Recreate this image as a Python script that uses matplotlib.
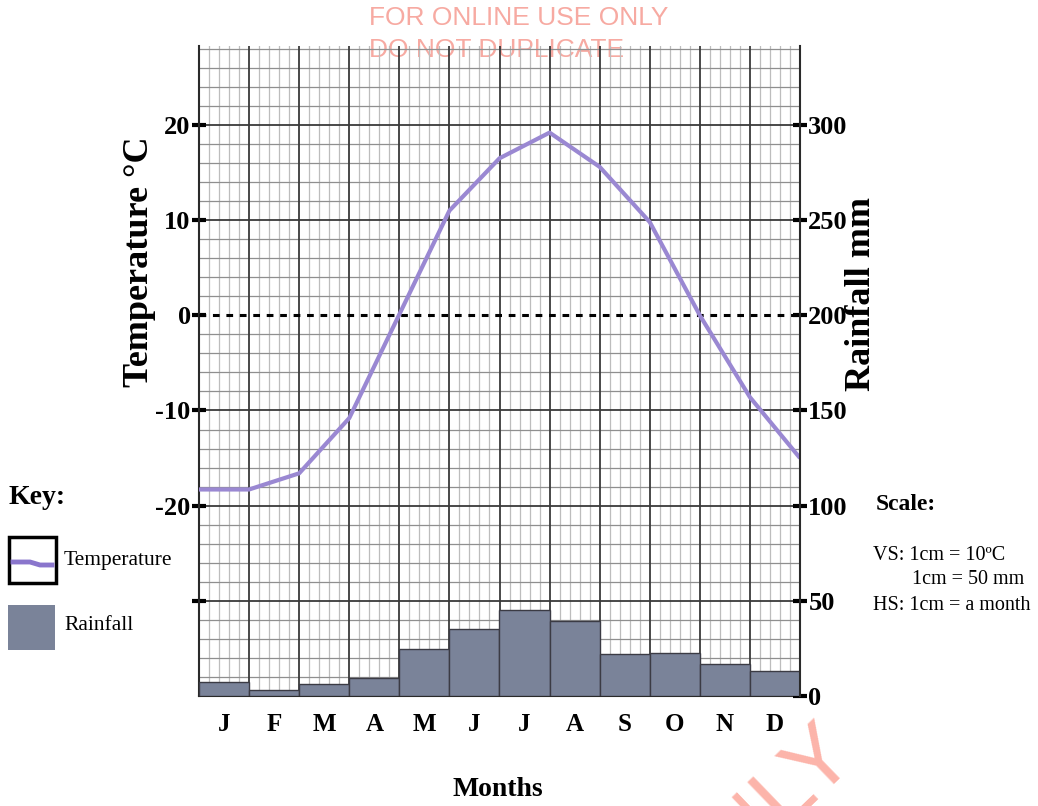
import matplotlib
matplotlib.use('Agg')
import matplotlib.pyplot as plt
import numpy as np
from matplotlib.patches import Rectangle
from matplotlib.lines import Line2D

# ---------------- data ----------------
months = ['J', 'F', 'M', 'A', 'M', 'J', 'J', 'A', 'S', 'O', 'N', 'D']
rainfall_mm = [7.5, 3, 6.5, 9.5, 24.5, 35, 45, 39.5, 22, 22.8, 17, 13.3]
# temperature read at month boundaries (start of Jan ... end of Dec)
temperature_c = [-18.3, -18.3, -16.6, -10.8, 0.1, 11.0, 16.5, 19.2, 15.6, 9.8, 0.0, -8.6, -15.0]
temp_ticks = [20, 10, 0, -10, -20, -30]
temp_tick_labels = ['20', '10', '0', '-10', '-20', '']
rain_ticks = [300, 250, 200, 150, 100, 50, 0]
rain_tick_labels = ['300', '250', '200', '150', '100', '50', '0']

SERIF = ['Liberation Serif', 'DejaVu Serif']
SANS = ['Liberation Sans', 'DejaVu Sans']
W, H = 1038, 806

fig = plt.figure(figsize=(W / 100, H / 100), dpi=100)


def fx(px):
    return px / W


def fy(py):
    return 1 - py / H


# watermark behind the grid
fig.text(fx(519), fy(18), 'FOR ONLINE USE ONLY', family=SANS, fontsize=19,
         color='#f7aaa2', ha='center', va='center', zorder=-2)
fig.text(fx(497), fy(50), 'DO NOT DUPLICATE', family=SANS, fontsize=19,
         color='#f7aaa2', ha='center', va='center', zorder=-2)

T_TOP, T_BOT = 28.3, -40
ax = fig.add_axes([fx(199), 110 / H, 601 / W, 650 / H])
ax.set_facecolor('none')
ax.set_xlim(0, 12)
ax.set_ylim(T_BOT, T_TOP)

# graph-paper grid
for x in np.round(np.arange(0, 12.001, 0.2), 3):
    if abs(x - round(x)) < 1e-6:
        ax.axvline(x, color='#3a3a3a', lw=1.3, zorder=1)
    else:
        ax.axvline(x, color='#bdbdbd', lw=0.9, zorder=0.5)
for y in np.arange(-40, T_TOP, 2):
    if y == 0:
        continue
    if y % 10 == 0:
        ax.axhline(y, color='#3a3a3a', lw=1.3, zorder=1)
    else:
        ax.axhline(y, color='#8f8f8f', lw=0.9, zorder=0.6)
ax.axhline(0, color='black', lw=2.2, ls=(0, (2.2, 2.2)), zorder=3)

# temperature line
ax.plot(np.arange(len(temperature_c)), temperature_c, color='#9a88d2', lw=3,
        zorder=5, solid_capstyle='butt')

ax.set_yticks(temp_ticks, labels=temp_tick_labels)
ax.tick_params(axis='y', direction='inout', length=10, width=3, pad=1,
               labelsize=19, color='black')
for lab in ax.get_yticklabels():
    lab.set_family(SERIF)
    lab.set_fontweight('bold')
ax.set_xticks(np.arange(12) + 0.5, labels=months)
ax.tick_params(axis='x', length=0, pad=12, labelsize=18)
for lab in ax.get_xticklabels():
    lab.set_family(SERIF)
    lab.set_fontweight('bold')

for s in ['top', 'right']:
    ax.spines[s].set_visible(False)
for s in ['left', 'bottom']:
    ax.spines[s].set_color('#2a2a2a')
    ax.spines[s].set_linewidth(1.5)

# rainfall axis
ax2 = ax.twinx()
ax2.set_ylim(0, (T_TOP - T_BOT) * 5)
ax2.bar(np.arange(12) + 0.5, rainfall_mm, width=1, color='#7a8399',
        edgecolor='#3b3b44', lw=1.0, zorder=2)
ax2.set_yticks(rain_ticks, labels=rain_tick_labels)
ax2.tick_params(axis='y', direction='inout', length=10, width=3, pad=1,
                labelsize=19, color='black')
for lab in ax2.get_yticklabels():
    lab.set_family(SERIF)
    lab.set_fontweight('bold')
for s in ['top', 'left', 'bottom']:
    ax2.spines[s].set_visible(False)
ax2.spines['right'].set_color('#2a2a2a')
ax2.spines['right'].set_linewidth(1.5)

# axis titles
fig.text(fx(140), fy(262), 'Temperature °C', rotation=90, family=SERIF,
         fontweight='bold', fontsize=26, ha='center', va='center')
fig.text(fx(862), fy(294), 'Rainfall mm', rotation=90, family=SERIF,
         fontweight='bold', fontsize=26, ha='center', va='center')
fig.text(fx(498), fy(790), 'Months', family=SERIF, fontweight='bold',
         fontsize=20, ha='center', va='center')

# key
fig.text(fx(9), fy(497), 'Key:', family=SERIF, fontweight='bold', fontsize=20,
         ha='left', va='center')
fig.add_artist(Rectangle((fx(9), fy(583)), 47 / W, 46 / H, transform=fig.transFigure,
                         fill=False, edgecolor='black', lw=2.5))
fig.add_artist(Line2D([fx(13), fx(30), fx(40), fx(52)], [fy(562), fy(562), fy(565), fy(565)],
                      transform=fig.transFigure, color='#8a76cc', lw=3.5))
fig.text(fx(64), fy(560), 'Temperature', family=SERIF, fontsize=15.5,
         ha='left', va='center')
fig.add_artist(Rectangle((fx(8), fy(650)), 47 / W, 45 / H, transform=fig.transFigure,
                         facecolor='#7a8399', edgecolor='none'))
fig.text(fx(64), fy(626), 'Rainfall', family=SERIF, fontsize=15.5,
         ha='left', va='center')

# scale
fig.text(fx(876), fy(505), 'Scale:', family=SERIF, fontweight='bold', fontsize=17,
         ha='left', va='center')
fig.text(fx(873), fy(555), 'VS: 1cm = 10ºC', family=SERIF, fontsize=14.5,
         ha='left', va='center')
fig.text(fx(912), fy(580), '1cm = 50 mm', family=SERIF, fontsize=14.5,
         ha='left', va='center')
fig.text(fx(873), fy(605), 'HS: 1cm = a month', family=SERIF, fontsize=14.5,
         ha='left', va='center')

# diagonal watermark
fig.text(fx(758), fy(822), 'ONLY', family=SANS, fontsize=64, color='#fcb4aa',
         rotation=44, ha='center', va='center', rotation_mode='anchor', zorder=-2)

fig.savefig('out.png', dpi=100)
